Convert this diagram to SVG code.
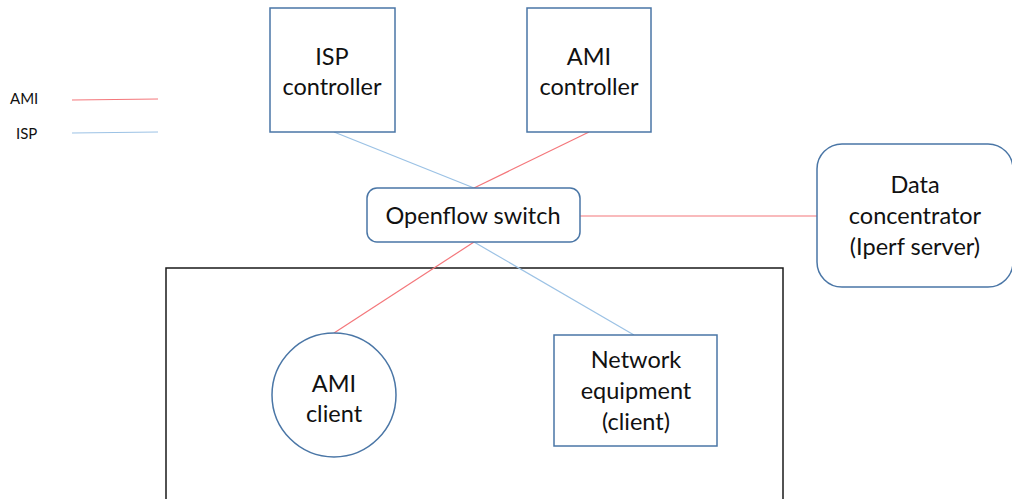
<svg xmlns="http://www.w3.org/2000/svg" width="1012" height="499" viewBox="0 0 1012 499">
  <style>
    .node { fill: #ffffff; stroke: #4a76a6; stroke-width: 1.5; }
    .lbl { font-family: Lato, "Open Sans", sans-serif; font-size: 23.5px; fill: #111111; text-anchor: middle; }
    .leg { font-family: Lato, "Open Sans", sans-serif; font-size: 15px; fill: #111111; }
    .ami { stroke: #f4777b; stroke-width: 1.2; fill: none; }
    .isp { stroke: #9cc2e5; stroke-width: 1.2; fill: none; }
  </style>
  <rect width="1012" height="499" fill="#ffffff"/>

  <!-- legend -->
  <g id="legend">
    <text class="leg" x="10" y="104">AMI</text>
    <text class="leg" x="16" y="139">ISP</text>
    <line class="ami" x1="72" y1="100" x2="158" y2="99"/>
    <line class="isp" x1="72" y1="133" x2="158" y2="132"/>
  </g>

  <!-- client site boundary -->
  <g id="site">
    <rect x="166" y="268" width="617" height="240" fill="none" stroke="#1a1a1a" stroke-width="1.5"/>
  </g>

  <!-- links -->
  <g id="connectors">
    <line class="isp" x1="334" y1="132" x2="474" y2="188"/>
    <line class="ami" x1="589" y1="132" x2="474" y2="188"/>
    <line class="ami" x1="580" y1="216" x2="817" y2="216"/>
    <line class="ami" x1="474" y1="242" x2="334" y2="333"/>
    <line class="isp" x1="474" y1="242" x2="634" y2="335"/>
  </g>

  <g id="isp-controller">
    <rect class="node" x="270" y="8" width="125" height="124"/>
    <text class="lbl" x="332" y="65">ISP</text>
    <text class="lbl" x="332" y="95">controller</text>
  </g>

  <g id="ami-controller">
    <rect class="node" x="527" y="8" width="124" height="124"/>
    <text class="lbl" x="589" y="65">AMI</text>
    <text class="lbl" x="589" y="95">controller</text>
  </g>

  <g id="openflow-switch">
    <rect class="node" x="367" y="188" width="213" height="54" rx="10"/>
    <text class="lbl" x="473" y="224">Openflow switch</text>
  </g>

  <g id="data-concentrator">
    <rect class="node" x="817" y="144" width="196" height="143" rx="25"/>
    <text class="lbl" x="915" y="193">Data</text>
    <text class="lbl" x="915" y="224">concentrator</text>
    <text class="lbl" x="915" y="255">(Iperf server)</text>
  </g>

  <g id="ami-client">
    <ellipse class="node" cx="334" cy="395" rx="62" ry="62"/>
    <text class="lbl" x="334" y="392">AMI</text>
    <text class="lbl" x="334" y="422">client</text>
  </g>

  <g id="network-equipment">
    <rect class="node" x="554" y="335" width="163" height="111"/>
    <text class="lbl" x="636" y="368">Network</text>
    <text class="lbl" x="636" y="399">equipment</text>
    <text class="lbl" x="636" y="430">(client)</text>
  </g>
</svg>
